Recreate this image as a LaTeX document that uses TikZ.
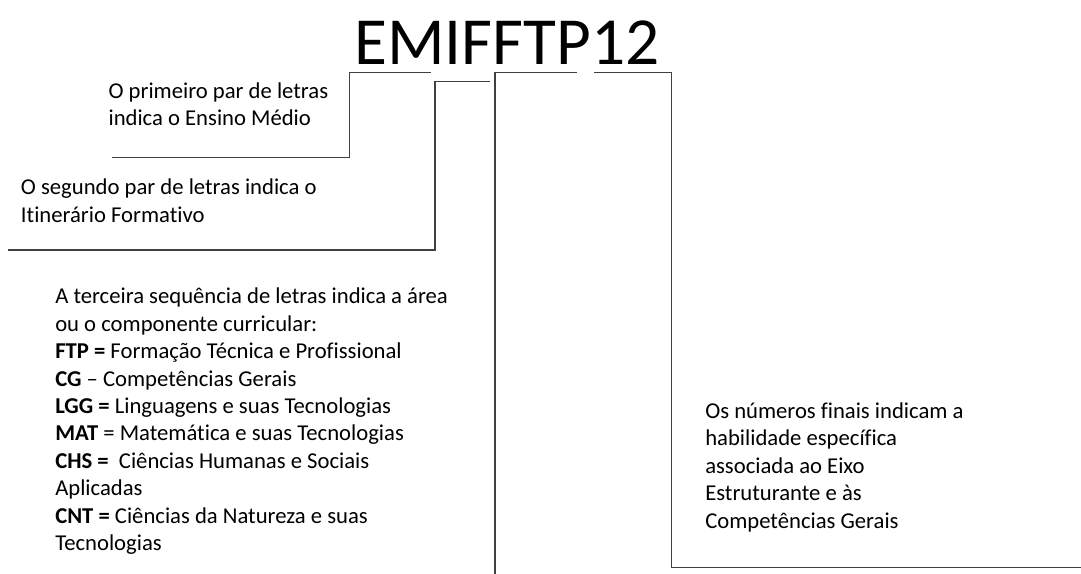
\documentclass[tikz,border=0pt]{standalone}
\usepackage{fontspec}
\setmainfont{Carlito}[Ligatures=NoCommon]
\usetikzlibrary{positioning}

\tikzset{
	bracket/.style={draw=black!75,line width=1pt},
	note/.style={anchor=north west,align=left,inner sep=0pt,font=\fontsize{17}{20.55}\selectfont,execute at begin node=\strut},
}

\begin{document}
\begin{tikzpicture}[x=0.75pt,y=-0.75pt]
	\useasboundingbox (0,0) rectangle (1081,574);
	\node[anchor=base west,inner sep=0pt,font=\fontsize{50.5}{60}\selectfont] (code) at (354,64.5) {EMIFFTP12};
	% first line of each note: top = baseline - 19.2
	\node[note] (first) at (108.3,82.5) {O primeiro par de letras\\indica o Ensino Médio};
	\node[note] (second) at (20.7,178.8) {O segundo par de letras indica o\\Itinerário Formativo};
	\node[note] (third) at (55,287.8) {A terceira sequência de letras indica a área\\ou o componente curricular:\\
		\textbf{FTP =} Formação Técnica e Profissional\\
		\textbf{CG} -- Competências Gerais\\
		\textbf{LGG =} Linguagens e suas Tecnologias\\
		\textbf{MAT} = Matemática e suas Tecnologias\\
		\textbf{CHS =}\ \ Ciências Humanas e Sociais\\
		Aplicadas\\
		\textbf{CNT =} Ciências da Natureza e suas\\
		Tecnologias};
	\node[note] (fourth) at (705,402.5) {Os números finais indicam a\\habilidade específica\\associada ao Eixo\\Estruturante e às\\Competências Gerais};
	% ends of the brackets
	\coordinate (em-l) at (349.3,72.3);
	\coordinate (em-r) at (430.7,72.3);
	\coordinate (if-l) at (435,81.7);
	\coordinate (if-r) at (490,81.7);
	\coordinate (ftp-l) at (495,72.3);
	\coordinate (ftp-r) at (576.7,72.3);
	\coordinate (num-l) at (594,72.3);
	\coordinate (num-r) at (671.7,72.3);
	\draw[bracket] (em-r) -- (em-l) |- (111.7,157.3);
	\draw[bracket] (if-r) -- (if-l) |- (8,250);
	\draw[bracket] (ftp-r) -- (ftp-l) -- (ftp-l |- 0,574);
	\draw[bracket] (num-l) -- (num-r) |- (1081,567.3);
\end{tikzpicture}
\end{document}
